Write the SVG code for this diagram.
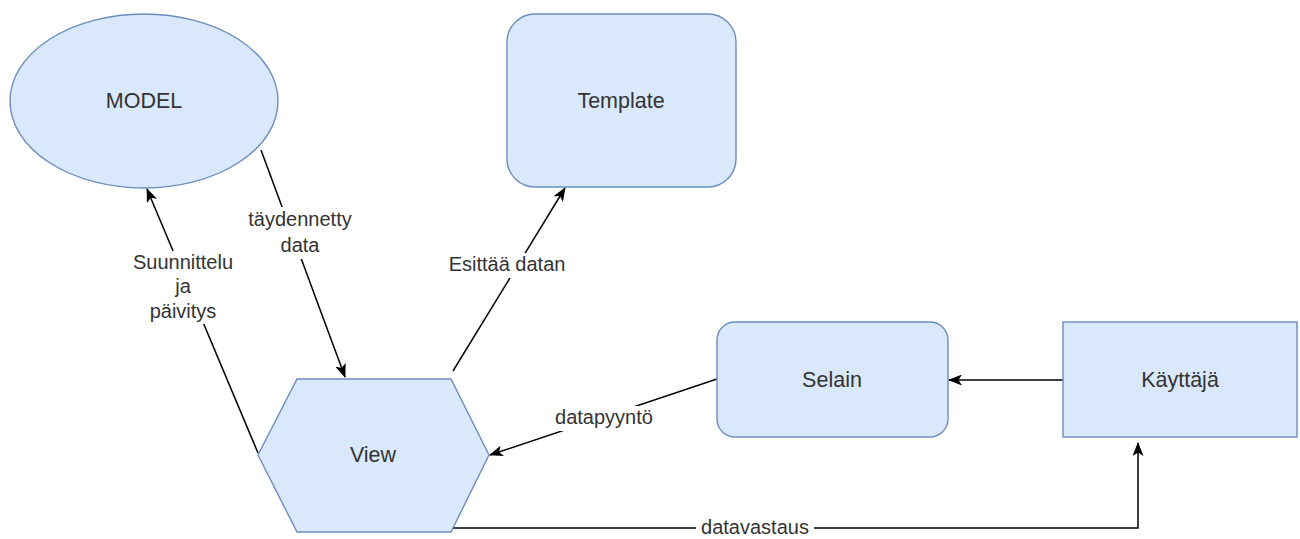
<svg xmlns="http://www.w3.org/2000/svg" width="1300" height="539" viewBox="0 0 1300 539">
<defs>
<marker id="arr" markerWidth="14" markerHeight="11" viewBox="0 0 14 11" refX="13" refY="5.5" orient="auto" markerUnits="userSpaceOnUse">
<path d="M0,0 L14,5.5 L0,11 L3.5,5.5 Z" fill="#000"/>
</marker>
<style>
.node{fill:#dae8fc;stroke:#6c8ebf;stroke-width:1.4}
.lbl{font-family:"Liberation Sans",Arial,sans-serif;font-size:21.5px;fill:#333333;text-anchor:middle}
.elbl{font-family:"Liberation Sans",Arial,sans-serif;font-size:20px;fill:#333333;text-anchor:middle}
.edge{fill:none;stroke:#000;stroke-width:1.5}
.bg{fill:#ffffff}
</style>
</defs>
<rect width="1300" height="539" fill="#ffffff"/>
<g id="connectors">
<path class="edge" d="M261,150 L345,377" marker-end="url(#arr)"/>
<path class="edge" d="M258,453 L147,189" marker-end="url(#arr)"/>
<path class="edge" d="M453,371 L565,188" marker-end="url(#arr)"/>
<path class="edge" d="M717,379 L490,455" marker-end="url(#arr)"/>
<path class="edge" d="M1063,380 L949,380" marker-end="url(#arr)"/>
<path class="edge" d="M452,528 L1138,528 L1138,443" marker-end="url(#arr)"/>
<rect class="bg" x="244" y="207" width="112" height="52"/>
<text class="elbl" x="300" y="226">täydennetty</text>
<text class="elbl" x="300" y="252">data</text>
<rect class="bg" x="126" y="251" width="114" height="73"/>
<text class="elbl" x="183" y="269">Suunnittelu</text>
<text class="elbl" x="183" y="293">ja</text>
<text class="elbl" x="183" y="318">päivitys</text>
<rect class="bg" x="443" y="253" width="129" height="25"/>
<text class="elbl" x="507" y="271">Esittää datan</text>
<rect class="bg" x="550" y="406" width="108" height="25"/>
<text class="elbl" x="604" y="424">datapyyntö</text>
<rect class="bg" x="696" y="516" width="118" height="23"/>
<text class="elbl" x="755" y="534">datavastaus</text>
</g>
<g id="model">
<ellipse class="node" cx="144" cy="101" rx="134" ry="87"/>
<text class="lbl" x="144" y="108">MODEL</text>
</g>
<g id="template">
<rect class="node" x="507" y="14" width="229" height="173" rx="28" ry="28"/>
<text class="lbl" x="621" y="108">Template</text>
</g>
<g id="view">
<polygon class="node" points="297,379 451,379 489,455 451,532 297,532 258,455"/>
<text class="lbl" x="373" y="462">View</text>
</g>
<g id="selain">
<rect class="node" x="717" y="322" width="231" height="115" rx="18" ry="18"/>
<text class="lbl" x="832" y="387">Selain</text>
</g>
<g id="kayttaja">
<rect class="node" x="1063" y="322" width="234" height="115"/>
<text class="lbl" x="1180" y="387">Käyttäjä</text>
</g>
</svg>
